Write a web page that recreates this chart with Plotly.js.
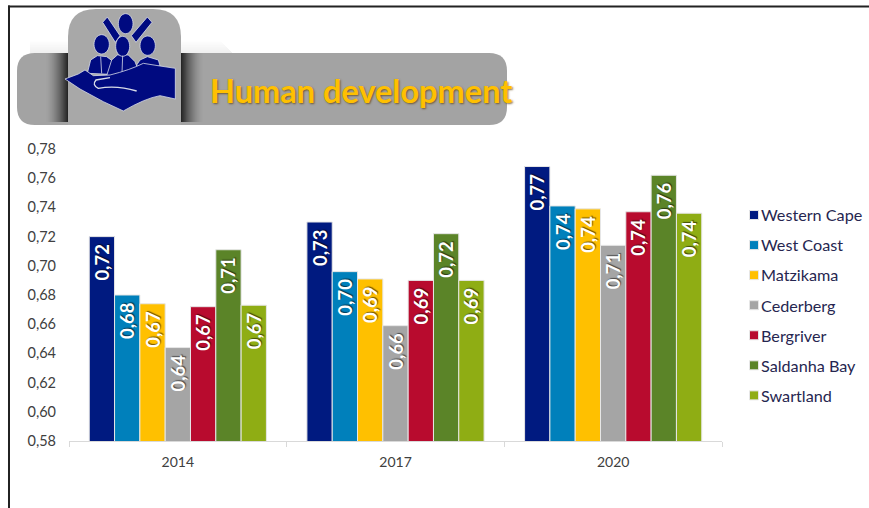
<!DOCTYPE html>
<html>
<head>
<meta charset="utf-8">
<script src="https://cdn.plot.ly/plotly-3.0.1.min.js"></script>
<style>html,body{margin:0;padding:0;background:#fff;overflow:hidden}</style>
</head>
<body>
<div id="chart" style="width:869px;height:508px"></div>
<script>
const years = ['2014', '2017', '2020'];
const seriesNames = ['Western Cape', 'West Coast', 'Matzikama', 'Cederberg', 'Bergriver', 'Saldanha Bay', 'Swartland'];
const westernCape = [0.720, 0.730, 0.768];
const westCoast = [0.680, 0.696, 0.741];
const matzikama = [0.674, 0.691, 0.739];
const cederberg = [0.644, 0.659, 0.714];
const bergriver = [0.672, 0.690, 0.737];
const saldanhaBay = [0.711, 0.722, 0.762];
const swartland = [0.673, 0.690, 0.736];
const seriesValues = [westernCape, westCoast, matzikama, cederberg, bergriver, saldanhaBay, swartland];
const seriesColors = ['#001a80', '#0080bb', '#ffc000', '#a5a5a5', '#b80b2e', '#5b8428', '#8fad14'];
const yTicks = [0.58, 0.60, 0.62, 0.64, 0.66, 0.68, 0.70, 0.72, 0.74, 0.76, 0.78];
const titleText = 'Human development';

const M = {l: 69, r: 147, t: 149, b: 67};
const PW = 869 - M.l - M.r, PH = 508 - M.t - M.b;
const fx = x => (x - M.l) / PW;
const fy = y => (508 - M.b - y) / PH;
const P = (x, y) => fx(x).toFixed(5) + ',' + fy(y).toFixed(5);
// icon drawn in coordinates of a local 3x grid whose origin is (60,5)
const Z = (x, y) => P(60 + x / 3, 5 + y / 3);
const poly = pts => 'M' + pts.map(p => Z(p[0], p[1])).join(' L') + ' Z';
const line = pts => 'M' + pts.map(p => Z(p[0], p[1])).join(' L');
const ell = (cx, cy, rx, ry) => {
  const k = 0.5523;
  return 'M' + Z(cx - rx, cy) +
    ' C' + Z(cx - rx, cy - k * ry) + ' ' + Z(cx - k * rx, cy - ry) + ' ' + Z(cx, cy - ry) +
    ' C' + Z(cx + k * rx, cy - ry) + ' ' + Z(cx + rx, cy - k * ry) + ' ' + Z(cx + rx, cy) +
    ' C' + Z(cx + rx, cy + k * ry) + ' ' + Z(cx + k * rx, cy + ry) + ' ' + Z(cx, cy + ry) +
    ' C' + Z(cx - k * rx, cy + ry) + ' ' + Z(cx - rx, cy + k * ry) + ' ' + Z(cx - rx, cy) + ' Z';
};
const rrect = (x0, y0, x1, y1, r) =>
  'M' + P(x0 + r, y0) + ' L' + P(x1 - r, y0) + ' Q' + P(x1, y0) + ' ' + P(x1, y0 + r) +
  ' L' + P(x1, y1 - r) + ' Q' + P(x1, y1) + ' ' + P(x1 - r, y1) +
  ' L' + P(x0 + r, y1) + ' Q' + P(x0, y1) + ' ' + P(x0, y1 - r) +
  ' L' + P(x0, y0 + r) + ' Q' + P(x0, y0) + ' ' + P(x0 + r, y0) + ' Z';

const shapes = [];
const add = (path, fill, lineColor, lineWidth, opacity) => shapes.push({
  type: 'path', xref: 'paper', yref: 'paper', path, fillcolor: fill || 'rgba(0,0,0,0)',
  line: {color: lineColor || 'rgba(0,0,0,0)', width: lineWidth || 0}, opacity: opacity === undefined ? 1 : opacity, layer: 'above'
});
const box = (x0, y0, x1, y1) => 'M' + P(x0, y0) + ' L' + P(x1, y0) + ' L' + P(x1, y1) + ' L' + P(x0, y1) + ' Z';

// page frame
add(box(8, 5.5, 869, 7.5), '#222222');
add(box(8, 5.5, 10, 508), '#222222');

// soft haze above the banner
for (let i = 0; i < 12; i++) {
  const a = (1 - i / 12) * 0.09;
  add(box(30, 53 - i - 1, 68, 53 - i), '#555555', null, 0, a);
  add(box(181, 53 - i - 1, 232 - i, 53 - i), '#555555', null, 0, a);
}
// banner
add(rrect(17, 53, 507, 125, 18), '#a3a3a3');
// dark shadow either side of the tile
for (let i = 0; i < 22; i++) {
  const a = Math.pow(1 - i / 22, 1.6) * 0.85;
  add(box(68 - i - 1, 53, 68 - i, 122), '#111111', null, 0, a);
  add(box(181 + i, 53, 181 + i + 1, 122), '#111111', null, 0, a);
}
// tile
add('M' + P(68, 125) + ' L' + P(68, 37) + ' Q' + P(68, 9) + ' ' + P(96, 9) + ' L' + P(153, 9) +
    ' Q' + P(181, 9) + ' ' + P(181, 37) + ' L' + P(181, 125) + ' Z', '#a8a8a8');

// people-in-hand emblem
const navy = '#000a80', edge = '#d8dce8';
add(poly([[128,52],[142,36],[180,92],[166,112]]), navy, edge, 0.8);
add(poly([[262,36],[276,52],[228,112],[214,92]]), navy, edge, 0.8);
add(ell(197, 56, 22, 30), navy, edge, 0.8);
add(poly([[82,205],[92,165],[112,152],[140,155],[160,170],[150,208]]), navy, edge, 0.8);
add(poly([[230,180],[240,165],[262,155],[295,165],[300,182],[240,200]]), navy, edge, 0.8);
add(poly([[140,212],[155,165],[172,150],[205,150],[225,170],[232,188],[180,212]]), navy, edge, 0.8);
add(ell(125, 118, 23, 29), navy, edge, 0.8);
add(ell(263, 122, 23, 29), navy, edge, 0.8);
add(ell(188, 124, 21, 30), navy, edge, 0.8);
add(line([[122,155],[125,205]]), null, edge, 0.8);
add(line([[188,152],[186,205]]), null, edge, 0.8);
add('M' + Z(15,222) + ' L' + Z(55,207) + ' L' + Z(75,195) + ' L' + Z(100,212) + ' L' + Z(150,210) +
    ' Q' + Z(210,195) + ' ' + Z(250,175) + ' L' + Z(300,183) + ' L' + Z(346,190) + ' L' + Z(346,282) +
    ' L' + Z(300,272) + ' Q' + Z(255,280) + ' ' + Z(190,318) + ' L' + Z(130,290) + ' L' + Z(60,252) + ' Z', navy, edge, 0.8);
add('M' + Z(230,258) + ' Q' + Z(170,240) + ' ' + Z(115,250) + ' Q' + Z(95,240) + ' ' + Z(108,225) + ' L' + Z(150,218), null, edge, 1.4);

const traces = seriesNames.map((name, i) => ({
  type: 'bar',
  name,
  x: years,
  y: seriesValues[i],
  legendgroup: name,
  marker: {color: seriesColors[i], line: {color: '#e6e6e6', width: 1}},
  texttemplate: '%{y:.2f}\u00a0',
  textposition: 'inside',
  insidetextanchor: 'end',
  textangle: -90,
  constraintext: 'none',
  cliponaxis: false,
  insidetextfont: {family: 'Lato, sans-serif', size: 18.5, weight: 700, color: '#ffffff', shadow: '1px 1px 1px rgba(0,0,0,0.55)'},
  hoverinfo: 'x+y+name'
}));

const layout = {
  width: 869, height: 508,
  margin: {l: M.l, r: M.r, t: M.t, b: M.b, pad: 0, autoexpand: false},
  paper_bgcolor: '#ffffff', plot_bgcolor: '#ffffff',
  separators: ',.',
  barmode: 'group', bargap: 0.186, bargroupgap: 0,
  font: {family: 'Lato, sans-serif', color: '#404040', size: 14},
  showlegend: true,
  legend: {
    x: fx(721), xanchor: 'left', y: fy(198), yanchor: 'top', traceorder: 'grouped',
    tracegroupgap: 6, itemwidth: 30, bgcolor: 'rgba(0,0,0,0)',
    font: {family: 'Lato, sans-serif', size: 16.2, color: '#262650'}
  },
  xaxis: {
    type: 'category', tickson: 'boundaries', ticks: 'outside', ticklen: 5, tickcolor: '#d9d9d9', tickwidth: 1,
    showline: true, linecolor: '#d9d9d9', linewidth: 1, showgrid: false, zeroline: false,
    ticklabelstandoff: 8, tickfont: {size: 14, color: '#404040'}
  },
  yaxis: {
    range: [0.58, 0.78], tickvals: yTicks, tickformat: '.2f', ticks: '', showgrid: false, zeroline: false, showline: false,
    ticklabelstandoff: 12, tickfont: {size: 14.5, color: '#404040'}
  },
  shapes,
  annotations: [{
    xref: 'paper', yref: 'paper', x: fx(208), y: fy(90), xanchor: 'left', yanchor: 'middle', showarrow: false,
    text: titleText,
    font: {family: 'Lato, sans-serif', size: 32.5, weight: 700, color: '#ffc000', shadow: '1px 1px 2px rgba(90,60,0,0.7)'}
  }]
};
Plotly.newPlot('chart', traces, layout, {displayModeBar: false, responsive: false}).then(gd => {
  // bring the legend keys next to their labels and to the reference's smaller size
  gd.querySelectorAll('.legend .legendsymbols').forEach(g => g.setAttribute('transform', 'translate(13,0)'));
  gd.querySelectorAll('.legend .legendsymbols path').forEach(p => p.setAttribute('d', 'M4.5,4.5H-4.5V-4.5H4.5Z'));
});
</script>
</body>
</html>
